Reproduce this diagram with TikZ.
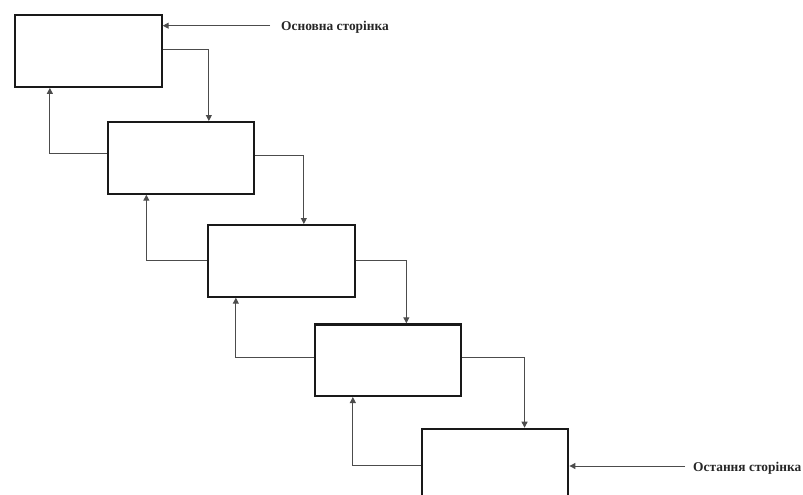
\documentclass[tikz,border=0pt]{standalone}
\usepackage{fontspec}
\setmainfont{Liberation Serif}
\usetikzlibrary{arrows.meta}
\begin{document}
\begin{tikzpicture}[x=1pt,y=-1pt,
  pagebox/.style={draw=black!90,line width=2.2pt,rectangle,minimum width=146.5pt,minimum height=71.5pt,inner sep=0pt,anchor=north west},
  conn/.style={draw=black!70,line width=1pt,-{Triangle[length=6pt,width=6pt]}},
  lbl/.style={font=\bfseries\fontsize{13.4pt}{15pt}\selectfont,anchor=base west,inner sep=0pt,text=black!85}]
\useasboundingbox (0,0) rectangle (803,495);
\node[pagebox] (b1) at (14,14.2) {};
\node[pagebox] (b2) at (106.5,121) {};
\node[pagebox] (b3) at (207,224) {};
\node[pagebox] (b4) at (313.5,323.3) {};
\node[pagebox] (b5) at (420.7,427.7) {};
\node[lbl] (t1) at (281,30.5) {Основна сторінка};
\node[lbl] (t2) at (693,471) {Остання сторінка};
\coordinate (s1) at (270,25.7);
\coordinate (s2) at (685,466);
% forward
\draw[conn] ([yshift=1.3pt]b1.east) -| ([xshift=28pt]b2.north);
\draw[conn] ([yshift=2.5pt]b2.east) -| ([xshift=22.5pt]b3.north);
\draw[conn] (b3.east) -| ([xshift=18.5pt]b4.north);
\draw[conn] ([yshift=3pt]b4.east) -| ([xshift=29.5pt]b5.north);
% back
\draw[conn] ([yshift=4.5pt]b2.west) -| ([xshift=-38.5pt]b1.south);
\draw[conn] (b3.west) -| ([xshift=-34.5pt]b2.south);
\draw[conn] ([yshift=2.3pt]b4.west) -| ([xshift=-45.5pt]b3.south);
\draw[conn] ([yshift=-0.5pt]b5.west) -| ([xshift=-35pt]b4.south);
% inputs
\draw[conn] (s1) -- (s1 -| b1.east);
\draw[conn] (s2) -- (s2 -| b5.east);
\end{tikzpicture}
\end{document}
